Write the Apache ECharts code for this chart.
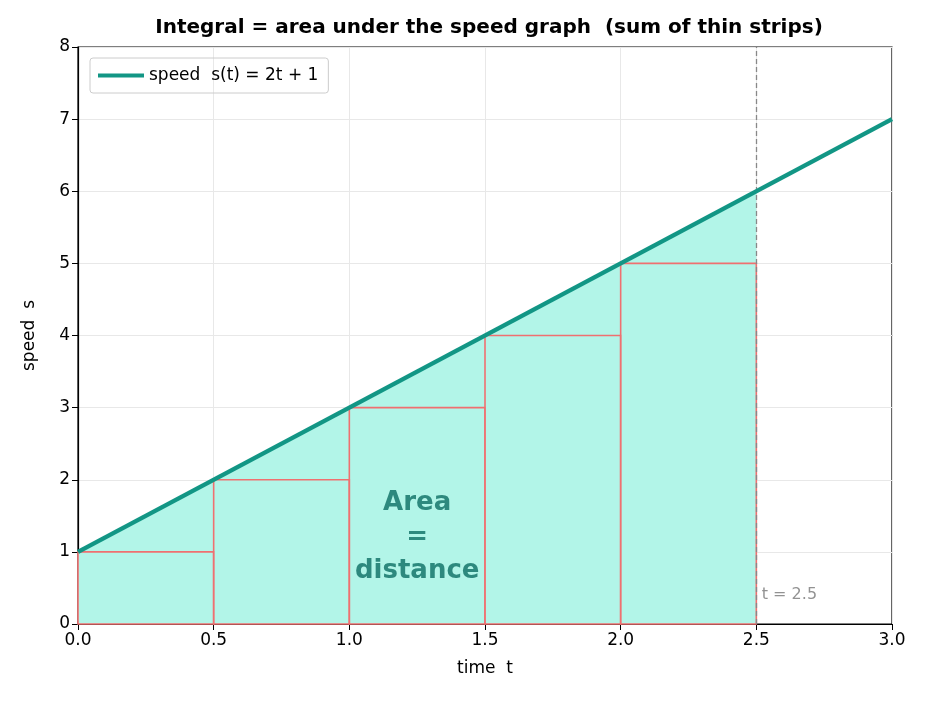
<!DOCTYPE html>
<html><head><meta charset="utf-8">
<script src="https://cdn.jsdelivr.net/npm/echarts@6/dist/echarts.min.js"></script>
<style>html,body{margin:0;padding:0;background:#fff}#c{width:952px;height:710px}</style>
</head><body><div id="c"></div>
<script>
const lineT = [0, 3];
const lineS = [1, 7];
const areaT = [0, 2.5];
const areaS = [1, 6];
const stripStart = [0, 0.5, 1.0, 1.5, 2.0];
const stripHeight = [1, 2, 3, 4, 5];
const stripWidth = 0.5;

const chart = echarts.init(document.getElementById('c'));
const font = 'DejaVu Sans';
chart.setOption({
  animation: false,
  textStyle: {fontFamily: font},
  title: {text: 'Integral = area under the speed graph  (sum of thin strips)', left: 484, top: 13, textAlign: 'center',
    textStyle: {fontSize: 20, fontWeight: 'bold', color: '#000', fontFamily: font}},
  grid: {left: 78, right: 60, top: 47, bottom: 86, show: true, borderColor: '#000', borderWidth: 1.2},
  legend: {data: [{name: 'speed  s(t) = 2t + 1', icon: 'rect'}], left: 90, top: 58, orient: 'vertical', padding: [9, 10, 9, 8],
    borderColor: '#ccc', borderWidth: 1, borderRadius: 3, itemWidth: 46, itemHeight: 4, itemGap: 6,
    textStyle: {fontSize: 17, color: '#000', fontFamily: font}},
  xAxis: {type: 'value', min: 0, max: 3, interval: 0.5, name: 'time  t', nameLocation: 'middle', nameGap: 36,
    nameTextStyle: {fontSize: 17, color: '#000'},
    axisLine: {lineStyle: {color: '#000', width: 1.2}}, axisTick: {show: true, length: 6, lineStyle: {color: '#000'}},
    axisLabel: {fontSize: 17, color: '#000', margin: 8, formatter: v => v.toFixed(1)},
    splitLine: {lineStyle: {color: '#e8e8e8'}}},
  yAxis: {type: 'value', min: 0, max: 8, interval: 1, name: 'speed  s', nameLocation: 'middle', nameGap: 40,
    nameTextStyle: {fontSize: 17, color: '#000'},
    axisLine: {show: true, lineStyle: {color: '#000', width: 1.2}}, axisTick: {show: true, length: 6, lineStyle: {color: '#000'}},
    axisLabel: {fontSize: 17, color: '#000', margin: 8},
    splitLine: {lineStyle: {color: '#e8e8e8'}}},
  series: [
    {type: 'line', name: 'area', data: areaT.map((t, i) => [t, areaS[i]]), symbol: 'none',
      lineStyle: {width: 0}, areaStyle: {color: '#b2f5e8', opacity: 1}, z: 1,
      markLine: {silent: true, symbol: 'none', label: {show: false},
        lineStyle: {color: '#888', type: [5, 3], width: 1.3}, data: [{xAxis: 2.5}]}},
    {type: 'custom', name: 'strips', z: 2,
      data: stripStart.map((t, i) => [t, stripHeight[i]]),
      renderItem: (params, api) => {
        const p0 = api.coord([api.value(0), 0]);
        const p1 = api.coord([api.value(0) + stripWidth, api.value(1)]);
        return {type: 'rect', shape: {x: p0[0], y: p1[1], width: p1[0] - p0[0], height: p0[1] - p1[1]},
          style: {fill: 'rgba(178,245,232,0.3)', stroke: '#ef7070', lineWidth: 1.6}};
      }},
    {type: 'line', name: 'speed  s(t) = 2t + 1', data: lineT.map((t, i) => [t, lineS[i]]), symbol: 'none',
      lineStyle: {color: '#129685', width: 4.5}, itemStyle: {color: '#129685'}, z: 5},
    {type: 'scatter', data: [[1.25, 1.2]], symbolSize: 0, silent: true, z: 6,
      label: {show: true, position: 'inside', formatter: 'Area\n=\ndistance', fontSize: 26, fontWeight: 'bold',
        color: '#0b6e63', lineHeight: 34, align: 'center', fontFamily: font}},
    {type: 'scatter', data: [[2.52, 0.4]], symbolSize: 0, silent: true, z: 6,
      label: {show: true, position: 'right', distance: 0, formatter: 't = 2.5', fontSize: 16, color: '#777', fontFamily: font}}
  ]
});
</script></body></html>
